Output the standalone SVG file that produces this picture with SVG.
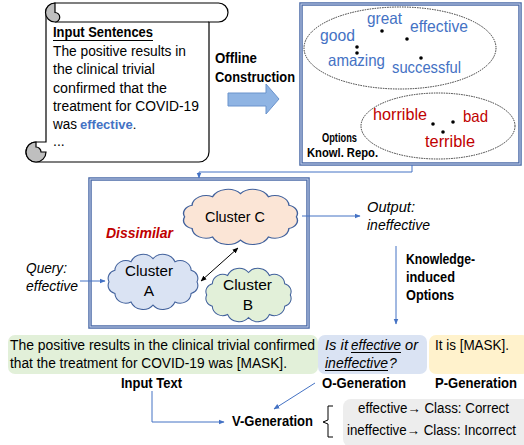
<svg xmlns="http://www.w3.org/2000/svg" width="524" height="445" viewBox="0 0 524 445">
<defs>
<marker id="ab" viewBox="0 0 10 10" refX="9" refY="5" markerWidth="6" markerHeight="6" orient="auto-start-reverse" markerUnits="userSpaceOnUse"><path d="M0,1 L10,5 L0,9 Z" fill="#4472C4"/></marker>
<marker id="ak" viewBox="0 0 10 10" refX="9" refY="5" markerWidth="6" markerHeight="6" orient="auto-start-reverse" markerUnits="userSpaceOnUse"><path d="M0,1 L10,5 L0,9 Z" fill="#000"/></marker>
<path id="cloud" d="M6,30 A9,9 0 0 1 11.9,17.5 A11,11 0 0 1 28,8.35 A13,13 0 0 1 50,5 A13,13 0 0 1 72,8.35 A11,11 0 0 1 88.1,17.5 A9,9 0 0 1 94,30 A9,9 0 0 1 88.1,42.5 A11,11 0 0 1 72,51.65 A13,13 0 0 1 50,55 A13,13 0 0 1 28,51.65 A11,11 0 0 1 11.9,42.5 A9,9 0 0 1 6,30 Z"/>
</defs>
<style>
text{font-family:"Liberation Sans",Arial,sans-serif;fill:#000}
.t{font-size:14px}
.b{font-weight:bold}
.i{font-style:italic}
.blue{fill:#4472C4}
.red{fill:#C00000}
.w{font-size:16.5px}
.cl{font-size:15.5px}
.conn{fill:none;stroke:#4472C4;stroke-width:1}
.frame1{fill:#fff;stroke:#4A69A6;stroke-width:3.5}
.frame2{fill:none;stroke:#C9D6EE;stroke-width:1}
.ell{fill:none;stroke:#333;stroke-width:1;stroke-dasharray:1.5 1}
.dot{fill:#000}
.cld{stroke:#41619C;stroke-width:1.1}
</style>

<g id="scroll">
<path d="M55,3 H218.5 A9.5,9.5 0 0 1 218.5,22 H209 V152 A10,10 0 0 1 199,162 H36 A10,10 0 0 1 36,142 H46 V12.5 A9.5,9.5 0 0 1 55,3 Z" fill="#fff" stroke="#000" stroke-width="1.2"/>
<path d="M55,22 H209" fill="none" stroke="#000" stroke-width="1.2"/>
<path d="M55,3 A9.5,9.5 0 0 0 55,22 A4.75,4.75 0 0 0 55,12.5 Z" fill="#BFBFBF" stroke="#000" stroke-width="1.2"/>
<path d="M36,142 A10,10 0 1 0 46,152 H41 A5,5 0 0 0 36,147 Z" fill="#BFBFBF" stroke="#000" stroke-width="1.2"/>
<text class="t b" x="53" y="37" textLength="100" lengthAdjust="spacingAndGlyphs">Input Sentences</text>
<path d="M53,40.5 H153" stroke="#000" stroke-width="1"/>
<text class="t" x="53" y="56" textLength="133" lengthAdjust="spacingAndGlyphs">The positive results in</text>
<text class="t" x="53" y="74" textLength="102" lengthAdjust="spacingAndGlyphs">the clinical trivial</text>
<text class="t" x="53" y="93" textLength="114" lengthAdjust="spacingAndGlyphs">confirmed that the</text>
<text class="t" x="53" y="111" textLength="146" lengthAdjust="spacingAndGlyphs">treatment for COVID-19</text>
<text class="t" x="53" y="129" textLength="24" lengthAdjust="spacingAndGlyphs">was</text>
<text class="b blue" x="80" y="129" font-size="13">effective<tspan style="font-weight:normal;fill:#000">.</tspan></text>
<text class="t" x="53" y="146">...</text>
</g>

<g id="offline">
<text class="t b" x="215" y="63" textLength="42" lengthAdjust="spacingAndGlyphs">Offline</text>
<text class="t b" x="215" y="82" textLength="80" lengthAdjust="spacingAndGlyphs">Construction</text>
<path d="M228,93 H266 V84 L279,99 L266,114 V106 H228 Z" fill="#8FB4E3" stroke="#6A93CC" stroke-width="1"/>
</g>

<g id="repo">
<rect class="frame1" x="301" y="4" width="219" height="160"/>
<rect class="frame2" x="301" y="4" width="219" height="160"/>
<ellipse class="ell" cx="400" cy="48" rx="96" ry="41"/>
<ellipse class="ell" cx="438" cy="126" rx="77" ry="33"/>
<text class="w blue" x="320" y="41" textLength="35" lengthAdjust="spacingAndGlyphs">good</text>
<text class="w blue" x="367" y="24" textLength="35" lengthAdjust="spacingAndGlyphs">great</text>
<text class="w blue" x="410" y="32" textLength="58" lengthAdjust="spacingAndGlyphs">effective</text>
<text class="w blue" x="328" y="66" textLength="57" lengthAdjust="spacingAndGlyphs">amazing</text>
<text class="w blue" x="392" y="73" textLength="69" lengthAdjust="spacingAndGlyphs">successful</text>
<circle class="dot" cx="357" cy="47" r="1.8"/>
<circle class="dot" cx="357" cy="53" r="1.8"/>
<circle class="dot" cx="382" cy="31" r="1.8"/>
<circle class="dot" cx="407" cy="39" r="1.8"/>
<circle class="dot" cx="421" cy="58" r="1.8"/>
<text class="w red" x="373" y="120" textLength="54" lengthAdjust="spacingAndGlyphs">horrible</text>
<text class="w red" x="463" y="122" textLength="25" lengthAdjust="spacingAndGlyphs">bad</text>
<text class="w red" x="425" y="147" textLength="50" lengthAdjust="spacingAndGlyphs">terrible</text>
<circle class="dot" cx="433" cy="124" r="1.8"/>
<circle class="dot" cx="453" cy="122" r="1.8"/>
<circle class="dot" cx="443" cy="132" r="1.8"/>
<text class="b" x="322" y="142" font-size="12" textLength="35" lengthAdjust="spacingAndGlyphs">Options</text>
<text class="b" x="307" y="157" font-size="12" textLength="71" lengthAdjust="spacingAndGlyphs">Knowl. Repo.</text>
</g>

<g id="clusterbox">
<rect class="frame1" x="90" y="179" width="218" height="148"/>
<rect class="frame2" x="90" y="179" width="218" height="148"/>
<text class="b i red" x="106" y="238" font-size="15" textLength="67" lengthAdjust="spacingAndGlyphs">Dissimilar</text>
</g>

<g id="clusterC">
<use href="#cloud" transform="translate(177,189) scale(1.27,0.93)" fill="#FBE5D6" class="cld"/>
<text class="cl" x="205" y="222" textLength="60" lengthAdjust="spacingAndGlyphs">Cluster C</text>
</g>
<g id="clusterA">
<use href="#cloud" transform="translate(103,254) scale(1.0,0.93)" fill="#DAE3F3" class="cld"/>
<text class="cl" x="125" y="276" textLength="48" lengthAdjust="spacingAndGlyphs">Cluster</text>
<text class="cl" x="149" y="296" text-anchor="middle">A</text>
</g>
<g id="clusterB">
<use href="#cloud" transform="translate(201,268) scale(0.95,0.9)" fill="#E2F0D9" class="cld"/>
<text class="cl" x="223" y="290" textLength="49" lengthAdjust="spacingAndGlyphs">Cluster</text>
<text class="cl" x="248" y="310" text-anchor="middle">B</text>
</g>

<g id="labels">
<text class="t i" x="26" y="273" textLength="41" lengthAdjust="spacingAndGlyphs">Query:</text>
<text class="t i" x="26" y="291" textLength="52" lengthAdjust="spacingAndGlyphs">effective</text>
<text class="t i" x="367" y="212" textLength="48" lengthAdjust="spacingAndGlyphs">Output:</text>
<text class="t i" x="367" y="230" textLength="63" lengthAdjust="spacingAndGlyphs">ineffective</text>
<text class="t b" x="406" y="264" font-size="13" textLength="69" lengthAdjust="spacingAndGlyphs">Knowledge-</text>
<text class="t b" x="406" y="282" font-size="13" textLength="49" lengthAdjust="spacingAndGlyphs">induced</text>
<text class="t b" x="406" y="300" font-size="13" textLength="48" lengthAdjust="spacingAndGlyphs">Options</text>
</g>

<g id="inputtext">
<rect x="8" y="335" width="310" height="39" rx="7" fill="#E2F0D9"/>
<text class="t" x="10" y="350" textLength="305" lengthAdjust="spacingAndGlyphs">The positive results in the clinical trivial confirmed</text>
<text class="t" x="10" y="368" textLength="277" lengthAdjust="spacingAndGlyphs">that the treatment for COVID-19 was [MASK].</text>
<text class="t b" x="121" y="388" textLength="61" lengthAdjust="spacingAndGlyphs">Input Text</text>
</g>
<g id="ogen">
<rect x="318" y="335" width="109" height="39" rx="7" fill="#DAE3F3"/>
<text class="t i" x="325" y="350" textLength="23" lengthAdjust="spacingAndGlyphs">Is it</text>
<text class="t i" x="351" y="350" textLength="50" lengthAdjust="spacingAndGlyphs">effective</text>
<text class="t i" x="405" y="350" textLength="13" lengthAdjust="spacingAndGlyphs">or</text>
<path d="M351,352.5 H401 M325,370.5 H388" stroke="#000" stroke-width="1"/>
<text class="t i" x="325" y="368" textLength="63" lengthAdjust="spacingAndGlyphs">ineffective</text>
<text class="t i" x="389" y="368">?</text>
<text class="t b" x="322" y="388" textLength="84" lengthAdjust="spacingAndGlyphs">O-Generation</text>
</g>
<g id="pgen">
<rect x="429" y="335" width="100" height="39" rx="7" fill="#FFF2CC"/>
<text class="t" x="435" y="350" textLength="74" lengthAdjust="spacingAndGlyphs">It is [MASK].</text>
<text class="t b" x="435" y="388" textLength="82" lengthAdjust="spacingAndGlyphs">P-Generation</text>
</g>
<g id="vgen">
<text class="t b" x="232" y="426" textLength="81" lengthAdjust="spacingAndGlyphs">V-Generation</text>
<path d="M333,406 H328 V420 L323,422 L328,424 V437 H333" fill="none" stroke="#000" stroke-width="1"/>
<rect x="343" y="399" width="190" height="48" rx="8" fill="#EDEDED"/>
<text class="t" x="358" y="413" textLength="151" lengthAdjust="spacingAndGlyphs">effective→ Class: Correct</text>
<text class="t" x="347" y="435" textLength="169" lengthAdjust="spacingAndGlyphs">ineffective→ Class: Incorrect</text>
</g>

<g id="connectors">
<path class="conn" d="M412,165 V172 H199 V178" marker-end="url(#ab)"/>
<path class="conn" d="M80,281 H105" marker-end="url(#ab)"/>
<path class="conn" d="M302,216 H360" marker-end="url(#ab)"/>
<path class="conn" d="M396,246 V324" marker-end="url(#ab)"/>
<path class="conn" d="M152,391 V422 H224" marker-end="url(#ab)"/>
<path class="conn" d="M315,383 L274,409" marker-end="url(#ab)"/>
<path d="M201,281 L238,248" fill="none" stroke="#000" stroke-width="1" marker-start="url(#ak)" marker-end="url(#ak)"/>
</g>
</svg>
